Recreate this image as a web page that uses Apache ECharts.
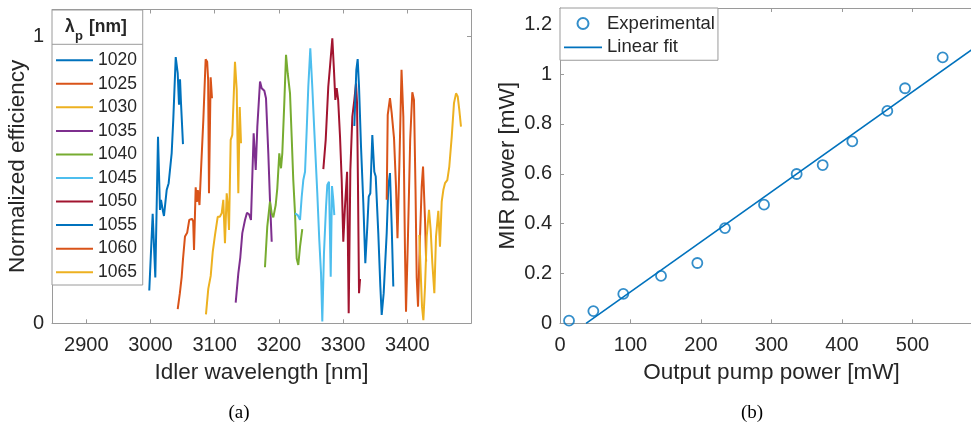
<!DOCTYPE html>
<html><head><meta charset="utf-8">
<script src="https://cdn.jsdelivr.net/npm/echarts@6/dist/echarts.min.js"></script>
<style>html,body{margin:0;padding:0;background:#fff}#c{width:971px;height:425px}</style>
</head><body><div id="c"></div>
<script>
// ---------- Panel (a) data: idler wavelength [nm] vs normalized efficiency ----------
const pumpLabels = ['1020','1025','1030','1035','1040','1045','1050','1055','1060','1065'];
const s1020 = [[2998.1,0.114],[3003.4,0.381],[3007.5,0.160],[3011.7,0.650],[3014.8,0.395],[3016.4,0.430],[3019.5,0.389],[3021.0,0.374],[3025.2,0.464],[3028.3,0.488],[3033.0,0.593],[3035.5,0.710],[3039.3,0.927],[3042.4,0.871],[3044.4,0.761],[3046.0,0.850],[3047.5,0.768],[3050.6,0.624]];
const s1025 = [[3042.4,0.049],[3045.7,0.104],[3048.6,0.162],[3050.5,0.220],[3053.7,0.302],[3057.1,0.315],[3060.4,0.360],[3064.6,0.364],[3066.5,0.355],[3067.8,0.255],[3070.4,0.474],[3072.2,0.423],[3073.7,0.464],[3076.3,0.412],[3078.7,0.534],[3082.3,0.708],[3085.9,0.920],[3088.3,0.911],[3089.8,0.847],[3091.1,0.453],[3093.7,0.857],[3095.8,0.784]];
const s1030 = [[3086.4,0.031],[3090.0,0.120],[3093.8,0.165],[3097.0,0.250],[3100.5,0.308],[3104.7,0.371],[3108.0,0.371],[3110.9,0.383],[3113.4,0.430],[3116.0,0.279],[3118.7,0.453],[3120.5,0.410],[3122.3,0.325],[3124.9,0.639],[3127.4,0.656],[3131.6,0.911],[3134.3,0.813],[3136.8,0.453],[3139.0,0.753],[3141.0,0.627]];
const s1035 = [[3132.7,0.072],[3136.8,0.174],[3139.9,0.230],[3143.0,0.314],[3147.2,0.360],[3150.3,0.385],[3153.5,0.380],[3156.5,0.360],[3160.7,0.662],[3163.9,0.534],[3166.4,0.685],[3170.6,0.842],[3173.2,0.819],[3177.3,0.810],[3179.9,0.784],[3183.5,0.592],[3186.1,0.430],[3188.8,0.284]];
const s1040 = [[3178.3,0.195],[3181.9,0.337],[3186.1,0.424],[3188.8,0.383],[3191.3,0.369],[3195.0,0.412],[3197.5,0.470],[3200.6,0.592],[3203.3,0.540],[3205.3,0.592],[3208.4,0.767],[3211.1,0.935],[3213.7,0.871],[3217.3,0.801],[3219.9,0.650],[3222.4,0.499],[3225.1,0.383],[3227.7,0.226],[3230.2,0.203],[3232.9,0.267],[3236.4,0.328]];
const s1045 = [[3225.1,0.383],[3229.3,0.377],[3232.9,0.360],[3235.5,0.440],[3238.0,0.499],[3240.7,0.528],[3243.3,0.673],[3245.8,0.824],[3248.9,0.958],[3252.0,0.824],[3255.1,0.673],[3259.8,0.453],[3262.9,0.290],[3265.6,0.174],[3267.6,0.006],[3270.2,0.244],[3273.4,0.406],[3275.4,0.482],[3278.0,0.493],[3280.7,0.162],[3282.7,0.478],[3284.7,0.430],[3286.3,0.377]];
const s1050 = [[3269.2,0.537],[3272.9,0.639],[3276.9,0.824],[3279.6,0.894],[3283.2,0.993],[3285.8,0.880],[3287.9,0.778],[3290.0,0.819],[3292.3,0.778],[3295.2,0.650],[3297.8,0.500],[3300.3,0.284],[3302.9,0.406],[3306.2,0.528],[3308.7,0.035],[3311.3,0.534],[3314.4,0.720],[3317.5,0.778],[3320.1,0.836],[3321.7,0.767],[3323.2,0.476],[3324.8,0.105],[3326.3,0.151],[3327.9,0.151]];
const s1055 = [[3317.5,0.687],[3320.6,0.883],[3322.7,0.920],[3324.8,0.824],[3327.9,0.615],[3331.5,0.418],[3334.6,0.209],[3337.7,0.337],[3339.9,0.441],[3342.4,0.453],[3345.5,0.656],[3348.6,0.528],[3350.8,0.511],[3354.8,0.314],[3358.0,0.128],[3360.1,0.029],[3363.2,0.105],[3367.9,0.314],[3370.4,0.476],[3373.0,0.523],[3375.7,0.337],[3378.2,0.128]];
const s1060 = [[3367.9,0.430],[3369.5,0.726],[3373.0,0.784],[3375.7,0.732],[3379.3,0.645],[3382.4,0.476],[3384.7,0.296],[3387.6,0.550],[3391.0,0.883],[3393.8,0.720],[3396.4,0.250],[3398.0,0.040],[3401.0,0.300],[3404.5,0.640],[3407.8,0.805],[3410.4,0.778],[3412.8,0.465],[3414.6,0.160],[3416.7,0.058],[3419.8,0.302],[3422.4,0.476],[3424.5,0.546],[3427.6,0.360],[3429.3,0.215]];
const s1065 = [[3418.7,0.308],[3420.9,0.174],[3422.9,0.058],[3425.0,0.011],[3427.6,0.128],[3430.2,0.302],[3433.8,0.395],[3436.4,0.325],[3439.0,0.209],[3442.1,0.105],[3444.7,0.302],[3448.3,0.392],[3450.9,0.267],[3453.6,0.424],[3456.1,0.464],[3458.7,0.488],[3462.3,0.499],[3465.4,0.546],[3469.2,0.650],[3472.7,0.767],[3475.9,0.801],[3478.5,0.790],[3481.0,0.743],[3483.6,0.685]];
const idlerTicks = [2900, 3000, 3100, 3200, 3300, 3400];
const effTicks = [0, 1];

// ---------- Panel (b) data: output pump power [mW] vs MIR power [mW] ----------
const pumpPower = [12.8, 47.3, 89.8, 143.3, 194.8, 234.0, 289.4, 335.7, 372.6, 414.6, 464.3, 489.4, 542.8];
const mirPower  = [0.0105, 0.049, 0.118, 0.190, 0.242, 0.382, 0.476, 0.599, 0.635, 0.730, 0.852, 0.943, 1.067];
const fitPumpPower = [37, 600];
const fitMirPower  = [0, 1.13];
const pumpPowerTicks = [0, 100, 200, 300, 400, 500];
const mirTicks = [0, 0.2, 0.4, 0.6, 0.8, 1, 1.2];

// ---------- styling ----------
const curveData = [s1020, s1025, s1030, s1035, s1040, s1045, s1050, s1055, s1060, s1065];
const curveColors = ['#0072BD','#D95319','#EDB120','#7E2F8E','#77AC30','#4DBEEE','#A2142F','#0072BD','#D95319','#EDB120'];
const FONT = "'Liberation Sans', Arial, Helvetica, sans-serif";
const SERIF = "'Liberation Serif', 'Times New Roman', serif";
const AX = '#9a9a9a';
const TXT = '#262626';

function axis(dim, gridIndex, position, min, max, ticks, showLabel, extra) {
  const a = {
    type: 'value', gridIndex, position, min, max,
    axisLine: { show: true, onZero: false, lineStyle: { color: AX, width: 1 } },
    axisTick: { show: true, inside: true, length: 4, customValues: ticks, lineStyle: { color: AX, width: 1 } },
    axisLabel: { show: showLabel, customValues: ticks, fontSize: 20, color: TXT, fontFamily: FONT,
                 margin: dim === 'x' ? 12 : 8, formatter: (v) => String(v) },
    splitLine: { show: false }
  };
  return Object.assign(a, extra || {});
}
const nameStyle = { fontSize: 22.5, color: TXT, fontFamily: FONT };

const series = curveData.map((d, i) => ({
  type: 'line', name: pumpLabels[i], xAxisIndex: 0, yAxisIndex: 0, data: d,
  symbol: 'none', showSymbol: false, clip: true,
  lineStyle: { width: 2, color: curveColors[i] }, itemStyle: { color: curveColors[i] }
}));
series.push({
  type: 'line', name: 'Linear fit', xAxisIndex: 2, yAxisIndex: 2,
  data: fitPumpPower.map((x, i) => [x, fitMirPower[i]]),
  symbol: 'none', showSymbol: false, clip: true,
  lineStyle: { width: 1.6, color: '#0072BD' }, itemStyle: { color: '#0072BD' }
});
series.push({
  type: 'scatter', name: 'Experimental', xAxisIndex: 2, yAxisIndex: 2,
  data: pumpPower.map((x, i) => [x, mirPower[i]]),
  symbol: 'circle', symbolSize: 10, z: 5,
  itemStyle: { color: 'rgba(0,0,0,0)', borderColor: '#0072BD', borderWidth: 1.8 }
});

const lineIconLeft = 'path://M0,0h37v2h-37z';
const lineIconRight = 'path://M0,0h38v1.6h-38z';

const option = {
  animation: false,
  backgroundColor: '#fff',
  grid: [
    { left: 52, top: 9.5, right: 500, bottom: 101.7, containLabel: false, outerBoundsMode: 'none' },
    { left: 560, top: 8, right: -12, bottom: 101.7, containLabel: false, outerBoundsMode: 'none' }
  ],
  xAxis: [
    axis('x', 0, 'bottom', 2846.6, 3499.2, idlerTicks, true,
      { name: 'Idler wavelength [nm]', nameLocation: 'middle', nameGap: 38, nameTextStyle: nameStyle }),
    axis('x', 0, 'top', 2846.6, 3499.2, idlerTicks, false),
    axis('x', 1, 'bottom', 0, 600, pumpPowerTicks, true,
      { name: 'Output pump power [mW]', nameLocation: 'middle', nameGap: 38, nameTextStyle: nameStyle }),
    axis('x', 1, 'top', 0, 600, pumpPowerTicks, false)
  ],
  yAxis: [
    axis('y', 0, 'left', 0, 1.093, effTicks, true,
      { name: 'Normalized efficiency', nameLocation: 'middle', nameGap: 18, nameTextStyle: nameStyle }),
    axis('y', 0, 'right', 0, 1.093, effTicks, false),
    axis('y', 1, 'left', 0, 1.265, mirTicks, true,
      { name: 'MIR power [mW]', nameLocation: 'middle', nameGap: 40.5, nameTextStyle: nameStyle }),
    axis('y', 1, 'right', 0, 1.265, mirTicks, false)
  ],
  legend: [
    {
      data: pumpLabels.map(n => ({ name: n, icon: lineIconLeft })),
      orient: 'vertical', left: 52, top: 10,
      padding: [41.25, 5.8, 3.8, 4], itemGap: 5.55, itemWidth: 37, itemHeight: 14,
      backgroundColor: '#fff', borderColor: AX, borderWidth: 1, selectedMode: false,
      textStyle: { fontSize: 17.5, color: TXT, fontFamily: FONT }
    },
    {
      data: [{ name: 'Experimental', icon: 'circle' }, { name: 'Linear fit', icon: lineIconRight }],
      orient: 'vertical', left: 560, top: 8,
      padding: [6, 3, 3.35, 4], itemGap: 4.9, itemWidth: 38, itemHeight: 11,
      backgroundColor: '#fff', borderColor: AX, borderWidth: 1, selectedMode: false,
      textStyle: { fontSize: 18.5, color: TXT, fontFamily: FONT }
    }
  ],
  graphic: [
    { type: 'text', x: 65, y: 27, z: 100, style: { text: 'λ', fontSize: 17.5, fontWeight: 'bold', fontFamily: FONT, fill: TXT, align: 'left', verticalAlign: 'middle' } },
    { type: 'text', x: 75, y: 36, z: 100, style: { text: 'p', fontSize: 13, fontWeight: 'bold', fontFamily: FONT, fill: TXT, align: 'left', verticalAlign: 'middle' } },
    { type: 'text', x: 89, y: 27, z: 100, style: { text: '[nm]', fontSize: 17.5, fontWeight: 'bold', fontFamily: FONT, fill: TXT, align: 'left', verticalAlign: 'middle' } },
    { type: 'line', z: 100, shape: { x1: 52, y1: 44.3, x2: 142.7, y2: 44.3 }, style: { stroke: AX, lineWidth: 1 } },
    { type: 'text', x: 239, y: 413, z: 100, style: { text: '(a)', fontSize: 19, fontFamily: SERIF, fill: '#000', align: 'center', verticalAlign: 'middle' } },
    { type: 'text', x: 752, y: 413, z: 100, style: { text: '(b)', fontSize: 19, fontFamily: SERIF, fill: '#000', align: 'center', verticalAlign: 'middle' } }
  ],
  series
};
const chart = echarts.init(document.getElementById('c'), null, { renderer: 'canvas' });
chart.setOption(option);
</script>
</body></html>
